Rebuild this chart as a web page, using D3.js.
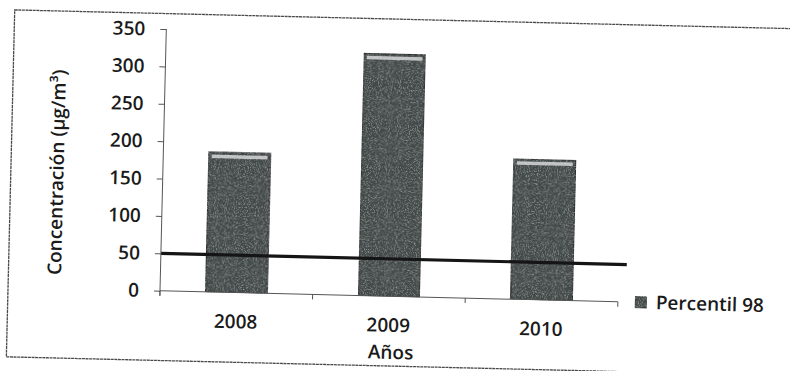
<!DOCTYPE html>
<html>
<head>
<meta charset="utf-8">
<script src="https://cdn.jsdelivr.net/npm/d3@7"></script>
<style>
  html, body { margin: 0; padding: 0; background: #ffffff; }
  svg { display: block; }
  text { font-family: "Open Sans", "Liberation Sans", sans-serif; font-weight: 600; fill: #1a1a1a; }
</style>
</head>
<body>
<svg id="chart" width="790" height="371"></svg>
<script>
// Percentil 98 concentration per year, with the 50 µg/m³ reference level
const years = ["2008", "2009", "2010"];
const percentil98 = [187, 324, 188];
const referenceLevel = 50;
const yTicks = [0, 50, 100, 150, 200, 250, 300, 350];
const seriesName = "Percentil 98";
const xTitle = "Años";
const yTitle = "Concentración (µg/m³)";

const svg = d3.select("#chart");
const FS = 19;

// plot frame
const x0 = 160, x1 = 618, yBase = 290.7, yTop = 29;

const defs = svg.append("defs");
const grain = defs.append("filter").attr("id", "grain")
  .attr("x", 0).attr("y", 0).attr("width", "100%").attr("height", "100%");
grain.append("feTurbulence").attr("type", "fractalNoise")
  .attr("baseFrequency", 0.9).attr("numOctaves", 2).attr("seed", 4).attr("result", "n");
grain.append("feColorMatrix").attr("in", "n").attr("type", "matrix")
  .attr("values", "0 0 0 0 0.75  0 0 0 0 0.78  0 0 0 0 0.77  1.0 0 0 0 -0.5")
  .attr("result", "w");
grain.append("feComposite").attr("in", "w").attr("in2", "SourceGraphic").attr("operator", "atop");

// the whole sheet sits slightly skewed on the page
const g = svg.append("g").attr("transform", `rotate(1.38, ${x0}, ${yBase})`);

// outer chart border
g.append("rect")
  .attr("x", 8).attr("y", 13.5).attr("width", 800).attr("height", 347)
  .attr("fill", "#ffffff").attr("stroke", "#4a4a4a").attr("stroke-width", 1.3)
  .attr("stroke-dasharray", "3 0.6");

const x = d3.scaleBand().domain(years).range([x0, x1]).padding(0);
const y = d3.scaleLinear().domain([0, 350]).range([yBase, yTop]);

// bars
const barW = x.bandwidth() * 0.405;
const bars = g.append("g");
bars.selectAll("rect.bar").data(years).join("rect")
  .attr("class", "bar")
  .attr("x", d => x(d) + (x.bandwidth() - barW) / 2)
  .attr("y", (d, i) => y(percentil98[i]))
  .attr("width", barW)
  .attr("height", (d, i) => y(0) - y(percentil98[i]))
  .attr("fill", "#434a49")
  .attr("stroke", "#262a2a").attr("stroke-width", 1.2)
  .attr("filter", "url(#grain)");
// bevel highlight along the top of each bar
bars.selectAll("rect.cap").data(years).join("rect")
  .attr("class", "cap")
  .attr("x", d => x(d) + (x.bandwidth() - barW) / 2 + 3)
  .attr("y", (d, i) => y(percentil98[i]) + 2.5)
  .attr("width", barW - 6)
  .attr("height", 3.5)
  .attr("fill", "#dde0df").attr("opacity", 0.8);

// reference level line
g.append("line")
  .attr("x1", x0).attr("x2", x1 + 8)
  .attr("y1", y(referenceLevel)).attr("y2", y(referenceLevel))
  .attr("stroke", "#151515").attr("stroke-width", 3.2);

// y axis
const yAxis = g.append("g").attr("transform", `translate(${x0},0)`)
  .call(d3.axisLeft(y).tickValues(yTicks).tickSize(6).tickPadding(15).tickFormat(d3.format("d")));
yAxis.select(".domain").attr("stroke", "#555").attr("stroke-width", 1).attr("d", `M0,${yTop}V${yBase + 5}`);
yAxis.selectAll(".tick line").attr("stroke", "#555");
yAxis.selectAll(".tick text").attr("font-size", FS).attr("font-family", "Open Sans, sans-serif")
  .attr("font-weight", 600).attr("fill", "#1a1a1a");

// x axis with tick marks at category boundaries
const xAxis = g.append("g").attr("transform", `translate(0,${yBase})`);
xAxis.append("line").attr("x1", x0).attr("x2", x1).attr("y1", 0).attr("y2", 0)
  .attr("stroke", "#555").attr("stroke-width", 1);
const bounds = years.map(d => x(d) + x.bandwidth()).concat([x0]);
xAxis.selectAll("line.tk").data(bounds).join("line").attr("class", "tk")
  .attr("x1", d => d).attr("x2", d => d).attr("y1", 0).attr("y2", 5)
  .attr("stroke", "#555");
xAxis.selectAll("text.lbl").data(years).join("text").attr("class", "lbl")
  .attr("x", d => x(d) + x.bandwidth() / 2).attr("y", 29)
  .attr("dy", "0.35em").attr("text-anchor", "middle").attr("font-size", FS)
  .text(d => d);

// axis titles
g.append("text")
  .attr("x", (x0 + x1) / 2 + 3).attr("y", yBase + 56).attr("dy", "0.35em")
  .attr("text-anchor", "middle").attr("font-size", FS).text(xTitle);
g.append("text")
  .attr("transform", `translate(54,${yBase - 116}) rotate(-90)`)
  .attr("dy", "0.35em").attr("text-anchor", "middle").attr("font-size", FS).text(yTitle);

// legend
const lg = g.append("g").attr("transform", `translate(635,${yBase})`);
lg.append("rect").attr("x", 0).attr("y", -6).attr("width", 12).attr("height", 12)
  .attr("fill", "#434a49").attr("stroke", "#262a2a").attr("filter", "url(#grain)");
lg.append("text").attr("x", 21).attr("y", 0).attr("dy", "0.35em")
  .attr("font-size", FS).text(seriesName);
</script>
</body>
</html>
